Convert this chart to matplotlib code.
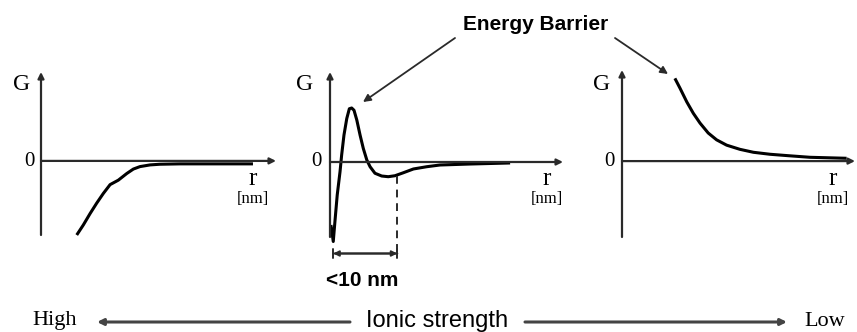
import matplotlib
matplotlib.use("Agg")
import matplotlib.pyplot as plt

# ---- data (arbitrary units: r along x, G along y) ----
p1_r = [1.52, 1.80, 2.09, 2.37, 2.65, 2.94, 3.29, 3.65, 3.93, 4.21, 4.64, 5.06, 5.91, 7.5, 9.02]
p1_G = [-1.0, -0.865, -0.71, -0.57, -0.44, -0.32, -0.26, -0.17, -0.11, -0.077, -0.054,
        -0.045, -0.04, -0.04, -0.04]

p2_r = [0.04, 0.14, 0.21, 0.31, 0.43, 0.50, 0.60, 0.72, 0.83, 0.93, 1.03, 1.15, 1.29,
        1.43, 1.58, 1.72, 1.93, 2.22, 2.50, 2.79, 3.15, 3.58, 4.15, 4.72, 6.0, 7.73]
p2_G = [-0.84, -1.06, -0.80, -0.44, -0.13, 0.093, 0.36, 0.58, 0.71, 0.72, 0.69, 0.56, 0.36,
        0.18, 0.027, -0.063, -0.15, -0.187, -0.196, -0.183, -0.143, -0.093, -0.063, -0.04,
        -0.027, -0.013]
p2_marker_r = 2.89   # dashed marker (range end)

p3_r = [2.27, 2.49, 2.78, 3.06, 3.35, 3.70, 4.06, 4.49, 5.06, 5.64, 6.35, 7.14, 8.07, 9.64]
p3_G = [1.09, 0.96, 0.78, 0.63, 0.50, 0.37, 0.28, 0.21, 0.155, 0.116, 0.09, 0.071, 0.05, 0.037]

y_label = "G"
zero_label = "0"
x_label = "r"
x_unit = "[nm]"
barrier_label = "Energy Barrier"
range_label = "<10 nm"
bottom_labels = ["High", "Ionic strength", "Low"]

W, H = 857, 332
SERIF = "Liberation Serif"
SANS = "Liberation Sans"
AX_COL = "#2a2a2a"

fig = plt.figure(figsize=(W / 100, H / 100), dpi=100)
fax = fig.add_axes([0, 0, 1, 1])
fax.set_xlim(0, W)
fax.set_ylim(H, 0)
fax.axis("off")


def panel(left, right, top, bottom):
    ax = fig.add_axes([left / W, (H - bottom) / H, (right - left) / W, (bottom - top) / H])
    ax.set_xlim(0, 10)
    ax.set_ylim(-1, 1.2)
    ax.axis("off")
    ap = dict(arrowstyle="-|>", lw=1.6, color=AX_COL, mutation_scale=9,
              shrinkA=0, shrinkB=0)
    ax.annotate("", xy=(0, 1.2), xytext=(0, -1), arrowprops=ap, annotation_clip=False)
    ax.annotate("", xy=(10, 0), xytext=(0, 0), arrowprops=ap, annotation_clip=False)
    return ax


ax1 = panel(41, 276, 72, 235)
ax2 = panel(330, 563, 72, 237)
ax3 = panel(622, 855, 70, 237)

for ax, r, g in [(ax1, p1_r, p1_G), (ax2, p2_r, p2_G), (ax3, p3_r, p3_G)]:
    ax.plot(r, g, color="black", lw=2.2, solid_joinstyle="round",
            solid_capstyle="butt", clip_on=False)

# axis labels in pixel coords
for gx, zx, rx in [(22, 29, 253), (305, 316, 547), (602, 609, 833)]:
    fax.text(gx, 85, y_label, family=SERIF, fontsize=17, ha="center", va="center")
    fax.text(zx, 161, zero_label, family=SERIF, fontsize=15, ha="center", va="center")
    fax.text(rx, 179, x_label, family=SERIF, fontsize=18, ha="center", va="center")
    fax.text(rx, 199, x_unit, family=SERIF, fontsize=12, ha="center", va="center")

# dashed marker & range arrow
ax2.plot([p2_marker_r, p2_marker_r], [-0.18, -1.28], color=AX_COL, lw=1.4,
         ls=(0, (4, 3)), clip_on=False)
r_left = p2_r[1]
ax2.annotate("", xy=(r_left, -1.22), xytext=(p2_marker_r, -1.22),
             arrowprops=dict(arrowstyle="|-|", lw=1.4, color=AX_COL, mutation_scale=3,
                             shrinkA=0, shrinkB=0), annotation_clip=False)
ax2.annotate("", xy=(r_left, -1.22), xytext=(p2_marker_r, -1.22),
             arrowprops=dict(arrowstyle="<|-|>", lw=1.4, color=AX_COL, mutation_scale=8,
                             shrinkA=0, shrinkB=0), annotation_clip=False)
fax.text(362, 280, range_label, family=SANS, fontweight="bold", fontsize=15,
         ha="center", va="center")

# Energy barrier
fax.text(536, 25, barrier_label, family=SANS, fontweight="bold", fontsize=15,
         ha="center", va="center")
bap = dict(arrowstyle="-|>", lw=1.3, color=AX_COL, mutation_scale=11, shrinkA=0, shrinkB=0)
fax.annotate("", xy=(363, 102), xytext=(455, 38), arrowprops=bap)
fax.annotate("", xy=(668, 74), xytext=(615, 38), arrowprops=bap)

# bottom ionic strength arrow
fax.text(55, 321, bottom_labels[0], family=SERIF, fontsize=16, ha="center", va="center")
fax.text(437, 321, bottom_labels[1], family=SANS, fontsize=17, ha="center", va="center")
fax.text(825, 321, bottom_labels[2], family=SERIF, fontsize=16, ha="center", va="center")
lap = dict(arrowstyle="-|>", lw=2.2, color="#444444", mutation_scale=9, shrinkA=0, shrinkB=0)
fax.annotate("", xy=(97, 322), xytext=(350, 322), arrowprops=lap)
fax.annotate("", xy=(787, 322), xytext=(525, 322), arrowprops=lap)

fig.savefig("out.png", dpi=100)
